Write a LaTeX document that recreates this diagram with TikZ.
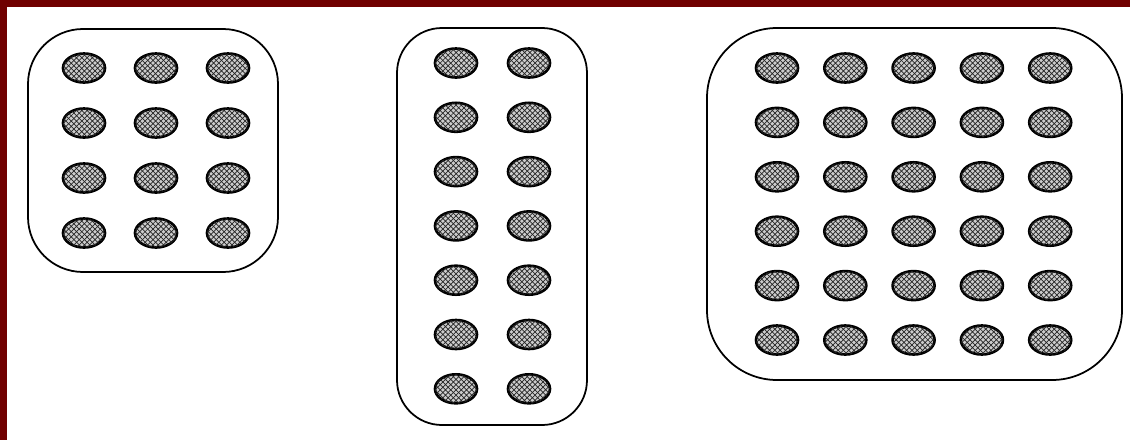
\documentclass[tikz,border=0pt]{standalone}
\usepackage{xcolor}
\usepackage{tikz}
\usetikzlibrary{shapes.geometric, patterns}
\definecolor{framered}{RGB}{112,0,0}

\begin{document}
\begin{tikzpicture}[x=0.02cm, y=-0.02cm,
    bead/.style={ellipse, draw, line width=1.5pt, fill=black!20,
        postaction={pattern=crosshatch, pattern color=black!85},
        minimum width=0.84cm, minimum height=0.58cm, inner sep=0pt},
    tray/.style={draw, line width=1pt}]
% Background and frame
\fill[white] (0,0) rectangle (1130,440);
\useasboundingbox (0,0) rectangle (1130,440);
\fill[framered] (0,0) rectangle (1130,7);
\fill[framered] (0,0) rectangle (7,440);
% Draw trays
\draw[tray, rounded corners=1.1cm] (28,29) rectangle (278,272);
\draw[tray, rounded corners=0.9cm] (397,28) rectangle (587,425);
\draw[tray, rounded corners=1.4cm] (707,28) rectangle (1122,380);
% Draw beads
\foreach \r in {1,...,4} {
    \foreach \c in {1,2,3} {
        \node[bead] (a-\r-\c) at (84+72*\c-72, 68+55*\r-55) {};
    }
}
\foreach \r in {1,...,7} {
    \foreach \c in {1,2} {
        \node[bead] (b-\r-\c) at (456+73*\c-73, 63+54.3*\r-54.3) {};
    }
}
\foreach \r in {1,...,6} {
    \foreach \c in {1,...,5} {
        \node[bead] (c-\r-\c) at (777+68.3*\c-68.3, 68+54.4*\r-54.4) {};
    }
}
\end{tikzpicture}
\end{document}
